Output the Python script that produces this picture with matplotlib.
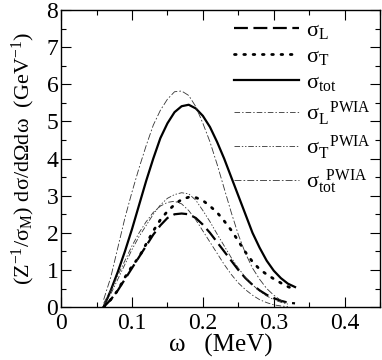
import numpy as np
import matplotlib
matplotlib.use("Agg")
import matplotlib.pyplot as plt
from matplotlib.ticker import MultipleLocator

plt.rcParams['font.family'] = 'serif'
plt.rcParams['font.serif'] = ['Liberation Serif', 'DejaVu Serif']
plt.rcParams['mathtext.fontset'] = 'custom'
plt.rcParams['mathtext.rm'] = 'Liberation Serif'
plt.rcParams['mathtext.it'] = 'Liberation Serif:italic'
plt.rcParams['lines.scale_dashes'] = False

# energy transfer omega (MeV)
w = [0.06, 0.07, 0.08, 0.09, 0.10, 0.11, 0.12, 0.13, 0.14, 0.15, 0.16, 0.17, 0.18, 0.19,
     0.20, 0.21, 0.22, 0.23, 0.24, 0.25, 0.26, 0.27, 0.28, 0.29, 0.30, 0.31, 0.32, 0.33]

sig_L = [0.0, 0.2, 0.45, 0.75, 1.05, 1.35, 1.65, 1.95, 2.2, 2.4, 2.5, 2.52, 2.5, 2.4,
         2.22, 2.0, 1.75, 1.5, 1.25, 1.0, 0.78, 0.6, 0.45, 0.33, 0.24, 0.17, 0.12, 0.1]
sig_T = [0.0, 0.2, 0.45, 0.8, 1.1, 1.35, 1.7, 2.05, 2.35, 2.58, 2.76, 2.9, 2.96, 2.95,
         2.87, 2.72, 2.55, 2.32, 2.07, 1.78, 1.48, 1.22, 1.02, 0.88, 0.76, 0.65, 0.55, 0.47]
sig_tot = [0.0, 0.45, 0.95, 1.5, 2.1, 2.75, 3.4, 4.0, 4.55, 4.95, 5.25, 5.41, 5.45, 5.35,
           5.15, 4.85, 4.45, 4.0, 3.5, 3.0, 2.5, 2.0, 1.6, 1.25, 0.98, 0.78, 0.63, 0.54]

w_p = w[:-1]
pwia_L = [0.1, 0.45, 0.85, 1.25, 1.65, 2.0, 2.3, 2.55, 2.72, 2.82, 2.85, 2.78, 2.6, 2.35,
          2.05, 1.75, 1.45, 1.15, 0.88, 0.65, 0.47, 0.32, 0.2, 0.12, 0.06, 0.03, 0.01]
pwia_T = [0.05, 0.35, 0.75, 1.15, 1.55, 1.9, 2.2, 2.5, 2.75, 2.93, 3.03, 3.08, 3.05, 2.88,
          2.6, 2.3, 1.97, 1.65, 1.33, 1.05, 0.8, 0.6, 0.43, 0.3, 0.2, 0.13, 0.08]
pwia_tot = [0.2, 0.8, 1.6, 2.4, 3.1, 3.75, 4.35, 4.9, 5.3, 5.6, 5.8, 5.82, 5.7, 5.4,
            4.95, 4.45, 3.85, 3.2, 2.55, 1.95, 1.45, 1.05, 0.75, 0.5, 0.32, 0.18, 0.1]

fig = plt.figure(figsize=(3.82, 3.6), dpi=100)
ax = fig.add_axes([0.16, 0.147, 0.835, 0.825])

ax.plot(w, sig_L, color='black', lw=1.6, dashes=(10, 4), label='σ$_{\\rm L}$')
ax.plot(w, sig_T, color='black', lw=2.0, dashes=(1.2, 5.5), dash_capstyle='round',
        label='σ$_{\\rm T}$')
ax.plot(w, sig_tot, color='black', lw=1.6, label='σ$_{\\rm tot}$')
ax.plot(w_p, pwia_L, color='#333333', lw=0.6, dashes=(4, 1.5, 1, 1.5),
        label='σ$_{\\rm L}^{\\ \\ \\ \\rm PWIA}$')
ax.plot(w_p, pwia_T, color='#333333', lw=0.6, dashes=(4, 1.3, 1, 1.3, 1, 1.3),
        label='σ$_{\\rm T}^{\\ \\ \\ \\rm PWIA}$')
ax.plot(w_p, pwia_tot, color='#333333', lw=0.6, dashes=(5, 1.5, 1.2, 1.5),
        label='σ$_{\\rm tot}^{\\ \\ \\rm PWIA}$')

ax.set_xlim(0, 0.45)
ax.set_ylim(0, 8)
ax.xaxis.set_major_locator(MultipleLocator(0.1))
ax.xaxis.set_minor_locator(MultipleLocator(0.05))
ax.yaxis.set_major_locator(MultipleLocator(1))
ax.yaxis.set_minor_locator(MultipleLocator(0.5))
ax.set_xticks([0, 0.1, 0.2, 0.3, 0.4])
ax.set_xticklabels(['0', '0.1', '0.2', '0.3', '0.4'])
ax.tick_params(which='both', direction='in', top=True, right=True, labelsize=17, width=0.8)
ax.tick_params(which='major', length=7)
ax.tick_params(which='minor', length=3.5)
ax.tick_params(axis='x', pad=4)
ax.tick_params(axis='y', pad=2)
for s in ax.spines.values():
    s.set_linewidth(1.0)

ax.set_xlabel('ω   (MeV)', fontsize=18, labelpad=0)
ax.set_ylabel('(Z$^{-1}$/σ$_{\\rm M}$) dσ/dΩdω  (GeV$^{-1}$)', fontsize=16, labelpad=7)

ax.legend(loc='upper right', frameon=False, fontsize=16, handlelength=2.9,
          handletextpad=0.35, labelspacing=0.25, borderaxespad=0.2,
          bbox_to_anchor=(1.015, 1.01))

fig.savefig('out.png', dpi=100)
